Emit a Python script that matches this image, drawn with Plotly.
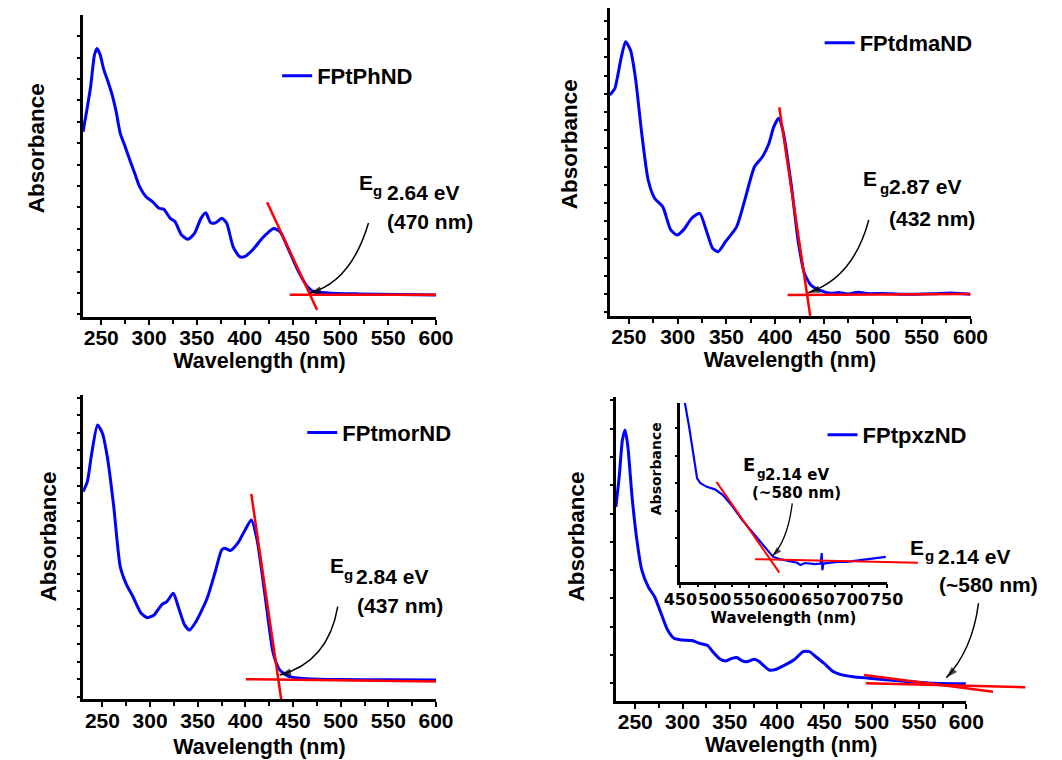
import plotly.graph_objects as go

W, H = 1062, 760

# ---------------- data ----------------
# Panel 1: FPtPhND
wl_phnd = [231, 234.4, 238.9, 242.9, 245.6, 249.0, 252.3, 257.1, 261.5, 265.5, 269.9, 275, 280, 285,
           290.1, 296.8, 303.6, 310.4, 315.4, 322.2, 327.2, 334, 340.8, 347.5, 354.3, 359.3, 364.4,
           369.4, 376.2, 381.2, 387.9, 394.7, 399.8, 408.2, 418.3, 425, 430.2, 437, 445.3, 455.5,
           465.6, 472.4, 480, 490, 520, 560, 600]
abs_phnd = [0.754, 0.84, 0.964, 1.112, 1.143, 1.112, 1.05, 0.987, 0.925, 0.85, 0.746, 0.684, 0.62, 0.56,
            0.497, 0.45, 0.427, 0.396, 0.391, 0.349, 0.333, 0.271, 0.251, 0.279, 0.349, 0.375, 0.328,
            0.328, 0.349, 0.326, 0.216, 0.170, 0.170, 0.201, 0.256, 0.285, 0.302, 0.286, 0.209, 0.107,
            0.029, 0.006, 0.002, -0.001, -0.004, -0.007, -0.009]
tan_phnd_steep_x = [423.4, 475.7]
tan_phnd_steep_y = [0.424, -0.079]
tan_phnd_base_x = [447.1, 600]
tan_phnd_base_y = [-0.008, -0.008]

# Panel 2: FPtdmaND
wl_dma = [230.5, 235.7, 241.7, 246.6, 251.6, 256.6, 263.2, 269.8, 276.4, 284.7, 292.9, 299.5, 306,
          314.4, 322.6, 329.2, 335.8, 341.4, 349, 360.5, 368.8, 378.7, 386.9, 393.6, 398.5, 403.5,
          408.4, 416.6, 423.3, 429.8, 436.4, 444.7, 456.2, 465, 475, 485, 495, 510, 530, 560, 580, 600]
abs_dma = [1.093, 1.130, 1.286, 1.386, 1.341, 1.194, 0.883, 0.626, 0.526, 0.480, 0.352, 0.324, 0.352,
           0.416, 0.443, 0.352, 0.251, 0.232, 0.287, 0.370, 0.516, 0.699, 0.754, 0.828, 0.919, 0.965,
           0.883, 0.590, 0.297, 0.114, 0.049, 0.022, 0.004, 0.008, 0.000, 0.010, 0.002, 0.003,
           -0.002, 0.001, 0.006, -0.002]
tan_dma_steep_x = [404.1, 435.8]
tan_dma_steep_y = [1.026, -0.12]
tan_dma_base_x = [412.7, 600]
tan_dma_base_y = [-0.005, 0.0]

# Panel 3: FPtmorND
wl_mor = [229.7, 234.2, 238.8, 244.9, 250, 255.1, 261.9, 268.7, 275.4, 282.1, 290.6, 297.4, 304.2,
          312.6, 317.6, 324.4, 329.5, 336.2, 341.3, 348.1, 359.9, 368.4, 375.2, 378.5, 384.3, 392,
          398.8, 406.2, 412.3, 420.8, 429.2, 436, 446.1, 464.7, 500, 550, 600]
abs_mor = [1.066, 1.123, 1.284, 1.445, 1.398, 1.265, 0.981, 0.640, 0.536, 0.469, 0.375, 0.350, 0.365,
           0.426, 0.441, 0.489, 0.413, 0.309, 0.280, 0.327, 0.460, 0.611, 0.735, 0.744, 0.731, 0.773,
           0.839, 0.905, 0.791, 0.469, 0.148, 0.053, 0.015, 0.003, -0.002, -0.003, -0.004]
tan_mor_steep_x = [406.2, 437.6]
tan_mor_steep_y = [1.053, -0.114]
tan_mor_base_x = [400.5, 600]
tan_mor_base_y = [0.0, -0.0135]

# Panel 4: FPtpxzND
wl_pxz = [229.5, 233, 236.4, 239.2, 242.2, 246.6, 251.7, 256.9, 263.7, 270.4, 277.3, 284.2, 290.9,
          299.5, 309.7, 318.2, 326.7, 331.8, 338.7, 345.5, 352.2, 357.4, 362.5, 367.6, 376.2, 381.3,
          391.5, 398.3, 408.5, 418.7, 427.3, 434.1, 440.9, 449.4, 459.6, 469.8, 480.1, 497.1, 531.2,
          565.3, 599.4]
abs_pxz = [0.624, 0.730, 0.860, 0.895, 0.836, 0.659, 0.506, 0.400, 0.341, 0.306, 0.247, 0.188, 0.159,
           0.153, 0.151, 0.141, 0.133, 0.112, 0.088, 0.079, 0.088, 0.091, 0.080, 0.076, 0.085, 0.076,
           0.047, 0.049, 0.065, 0.085, 0.112, 0.112, 0.094, 0.071, 0.041, 0.029, 0.023, 0.018, 0.008,
           0.000, -0.002]
tan_pxz_a_x = [492.0, 628.3]
tan_pxz_a_y = [0.029, -0.030]
tan_pxz_b_x = [493.7, 662.4]
tan_pxz_b_y = [0.0, -0.014]

# Inset of panel 4 (450-750 nm)
wl_inset = [452.8, 456.6, 462.7, 469.7, 474.3, 479.1, 488.4, 500.2, 511.9, 526, 540, 554.1, 568.1,
            577.6, 584.6, 596.3, 610, 619.8, 624.4, 631.4, 645.5, 654, 655.5, 656.5, 658, 668, 680.7,
            692, 704.2, 716, 727.5, 738, 748.6]
abs_inset = [0.621, 0.591, 0.505, 0.396, 0.318, 0.300, 0.287, 0.278, 0.257, 0.215, 0.166, 0.124, 0.081,
             0.051, 0.033, 0.023, 0.016, 0.011, 0.003, 0.010, 0.006, 0.008, 0.046, -0.016, 0.008, 0.012,
             0.015, 0.014, 0.018, 0.020, 0.024, 0.027, 0.032]
tan_in_steep_x = [502.5, 593.9]
tan_in_steep_y = [0.305, -0.025]
tan_in_base_x = [558.7, 795.6]
tan_in_base_y = [0.024, 0.011]

# Arrow paths (start, control, end) in data units
arrow_phnd = [(529.4, 0.327), (511.1, 0.051), (468.0, 0.0)]
arrow_dma = [(495.8, 0.407), (480.0, 0.088), (433.8, 0.007)]
arrow_mor = [(496.9, 0.413), (487.0, 0.098), (436.0, 0.024)]
arrow_pxz = [(612.9, 0.283), (606.5, 0.118), (578.9, 0.020)]
arrow_inset = [(612.7, 0.227), (606.1, 0.093), (583.6, 0.035)]

x_ticks = [250, 300, 350, 400, 450, 500, 550, 600]
inset_ticks = [450, 500, 550, 600, 650, 700, 750]

# ---------------- styling ----------------
BLUE = "#0000FF"
RED = "#FF0000"
FONT = "Liberation Sans, Arial, sans-serif"
FONT_IN = "DejaVu Sans, Verdana, sans-serif"


def fx(p):
    return p / W


def fy(p):
    return 1 - p / H


fig = go.Figure()

# blue curves
spline = dict(color=BLUE, width=3, shape="spline", smoothing=0.6)
fig.add_trace(go.Scatter(x=wl_phnd, y=abs_phnd, mode="lines", name="FPtPhND", line=spline,
                         xaxis="x", yaxis="y", legend="legend"))
fig.add_trace(go.Scatter(x=wl_dma, y=abs_dma, mode="lines", name="FPtdmaND", line=spline,
                         xaxis="x2", yaxis="y2", legend="legend2"))
fig.add_trace(go.Scatter(x=wl_mor, y=abs_mor, mode="lines", name="FPtmorND", line=spline,
                         xaxis="x3", yaxis="y3", legend="legend3"))
fig.add_trace(go.Scatter(x=wl_pxz, y=abs_pxz, mode="lines", name="FPtpxzND", line=spline,
                         xaxis="x4", yaxis="y4", legend="legend4"))
fig.add_trace(go.Scatter(x=wl_inset, y=abs_inset, mode="lines", showlegend=False,
                         line=dict(color=BLUE, width=2.2),
                         xaxis="x6", yaxis="y6"))

# red tangent lines
red_sets = [
    (tan_phnd_steep_x, tan_phnd_steep_y, "x", "y", 2.5),
    (tan_phnd_base_x, tan_phnd_base_y, "x", "y", 2.5),
    (tan_dma_steep_x, tan_dma_steep_y, "x2", "y2", 2.5),
    (tan_dma_base_x, tan_dma_base_y, "x2", "y2", 2.5),
    (tan_mor_steep_x, tan_mor_steep_y, "x3", "y3", 2.5),
    (tan_mor_base_x, tan_mor_base_y, "x3", "y3", 2.5),
    (tan_pxz_a_x, tan_pxz_a_y, "x5", "y4", 2.5),
    (tan_pxz_b_x, tan_pxz_b_y, "x5", "y4", 2.5),
    (tan_in_steep_x, tan_in_steep_y, "x7", "y6", 2),
    (tan_in_base_x, tan_in_base_y, "x7", "y6", 2),
]
for xs, ys, xa, ya, w in red_sets:
    fig.add_trace(go.Scatter(x=xs, y=ys, mode="lines", showlegend=False,
                             line=dict(color=RED, width=w), xaxis=xa, yaxis=ya))

# arrowheads: marker "arrow" oriented along control->end direction
arrow_defs = [
    (arrow_phnd, "x", "y", 1.5, 12),
    (arrow_dma, "x2", "y2", 1.5, 12),
    (arrow_mor, "x3", "y3", 1.5, 12),
    (arrow_pxz, "x5", "y4", 1.5, 12),
    (arrow_inset, "x6", "y6", 1.3, 10),
]
for (p0, pc, p1), xr, yr, lw, ms in arrow_defs:
    fig.add_trace(go.Scatter(x=[pc[0], p1[0]], y=[pc[1], p1[1]], mode="markers",
                             showlegend=False, hoverinfo="skip",
                             marker=dict(symbol="arrow", size=[0, ms], angleref="previous",
                                         color="black", line=dict(width=0)),
                             xaxis=xr, yaxis=yr))


# ---------------- axes ----------------
def xaxis_main(standoff):
    return dict(showline=True, linecolor="black", linewidth=3, ticks="outside", ticklen=5,
                tickwidth=2, tickcolor="black", tickvals=x_ticks, showgrid=False, zeroline=False,
                ticklabelstandoff=-5, tickangle=0,
                minor=dict(dtick=25, tick0=0, ticks="outside", ticklen=4, tickwidth=2,
                           tickcolor="black", showgrid=False),
                tickfont=dict(family=FONT, size=21, color="black", weight="bold"),
                title=dict(text="Wavelength (nm)", standoff=standoff,
                           font=dict(family=FONT, size=21.5, color="black", weight="bold")))


ycommon = dict(showline=True, linecolor="black", linewidth=3, ticks="outside", ticklen=3,
               tickwidth=2, tickcolor="black", dtick=0.1, tick0=0, showticklabels=False,
               showgrid=False, zeroline=False)

layout = dict(
    width=W, height=H, margin=dict(l=0, r=0, t=0, b=0),
    paper_bgcolor="white", plot_bgcolor="rgba(0,0,0,0)",
    xaxis=dict(xaxis_main(1), domain=[fx(68.3), fx(433.3)], range=[231, 600], anchor="y"),
    yaxis=dict(ycommon, domain=[fy(317), fy(15)], range=[-0.112, 1.299], anchor="x"),
    xaxis2=dict(xaxis_main(5), domain=[fx(612.7), fx(986)], range=[230.2, 600], anchor="y2"),
    yaxis2=dict(ycommon, domain=[fy(316), fy(8)], range=[-0.121, 1.571], anchor="x2"),
    xaxis3=dict(xaxis_main(9), domain=[fx(68.3), fx(433.3)], range=[229.7, 600], anchor="y3"),
    yaxis3=dict(ycommon, domain=[fy(699.3), fy(395)], range=[-0.114, 1.615], anchor="x3"),
    xaxis4=dict(xaxis_main(3), domain=[fx(619.3), fx(981.7)], range=[229.5, 600], anchor="y4"),
    yaxis4=dict(ycommon, domain=[fy(700.7), fy(396.7)], range=[-0.0615, 1.013], anchor="x4"),
    # wider, hidden scale sharing panel 4's units so the tangents may run past 600 nm
    xaxis5=dict(visible=False, domain=[fx(619.3), 1.0],
                range=[229.5, 229.5 + (W - 619.3) * 50 / 48.9], anchor="y4"),
    # inset
    xaxis6=dict(showline=True, linecolor="black", linewidth=2.5, ticks="outside", ticklen=4,
                tickwidth=1.5, tickcolor="black", tickvals=inset_ticks, showgrid=False,
                zeroline=False, range=[450, 750], domain=[fx(686), fx(899.3)], anchor="y6",
                tickangle=0, ticklabelstandoff=-3,
                minor=dict(dtick=25, tick0=0, ticks="outside", ticklen=3, tickwidth=1.5,
                           tickcolor="black", showgrid=False),
                tickfont=dict(family=FONT_IN, size=16, color="black", weight="bold"),
                title=dict(text="Wavelength (nm)", standoff=0,
                           font=dict(family=FONT_IN, size=15, color="black", weight="bold"))),
    yaxis6=dict(showline=True, linecolor="black", linewidth=2.5, ticks="outside", ticklen=3,
                tickwidth=1.5, tickcolor="black", dtick=0.1, tick0=0, showticklabels=False,
                showgrid=False, zeroline=False, range=[-0.058, 0.592],
                domain=[fy(581.7), fy(403)], anchor="x6"),
    xaxis7=dict(visible=False, domain=[fx(686), fx(940)],
                range=[450, 450 + (940 - 686) * 300 / 213.3], anchor="y6"),
)

legend_font = dict(family=FONT, size=22, color="black", weight="bold")
for key, lx, ly in [("legend", 269, 76), ("legend2", 830, 43), ("legend3", 295, 432.7),
                    ("legend4", 833, 435)]:
    layout[key] = dict(x=fx(lx), y=fy(ly), xanchor="left", yanchor="middle",
                       bgcolor="rgba(0,0,0,0)", font=legend_font, itemwidth=30)

fig.update_layout(**layout)

# ---------------- annotations ----------------
ann = []


def txt(text, x, y, size=21, family=FONT, xanchor="left", angle=0):
    ann.append(dict(text=text, x=fx(x), y=fy(y), xref="paper", yref="paper", showarrow=False,
                    xanchor=xanchor, yanchor="middle", textangle=angle,
                    font=dict(family=family, size=size, color="black", weight="bold")))


# y axis titles
txt("Absorbance", 21, 148, size=22.5, xanchor="center", angle=-90)
txt("Absorbance", 571, 144, size=22.5, xanchor="center", angle=-90)
txt("Absorbance", 32.5, 536, size=22.5, xanchor="center", angle=-90)
txt("Absorbance", 578.5, 536, size=22.5, xanchor="center", angle=-90)
txt("Absorbance", 661, 469, size=14, family=FONT_IN, xanchor="center", angle=-90)

# band-gap labels: "E" with a lowered small "g", then value and wavelength
txt("E", 352, 182.5)
txt("g", 366, 191, size=15)
txt("2.64 eV", 381, 192.5)
txt("(470 nm)", 381, 221.5)

txt("E", 873, 178.5)
txt("g", 890, 188, size=15)
txt("2.87 eV", 900, 187)
txt("(432 nm)", 900, 218.5)

txt("E", 322, 565)
txt("g", 336.5, 574.6, size=15)
txt("2.84 eV", 349, 576)
txt("(437 nm)", 350, 605)

txt("E", 921, 547.5)
txt("g", 937, 555.4, size=15)
txt("2.14 eV", 950, 556.5)
txt("(~580 nm)", 951, 584)

txt("E", 748.5, 465, size=18, family=FONT_IN)
txt("g", 763.5, 473.5, size=12, family=FONT_IN)
txt("2.14 eV", 771, 475, size=15, family=FONT_IN)
txt("(~580 nm)", 758, 493, size=15, family=FONT_IN)

# curved arrow shafts
shapes = []
for (p0, pc, p1), xr, yr, lw, ms in arrow_defs:
    shapes.append(dict(type="path", xref=xr, yref=yr,
                       path=f"M {p0[0]},{p0[1]} Q {pc[0]},{pc[1]} {p1[0]},{p1[1]}",
                       line=dict(color="black", width=lw), layer="above"))

fig.update_layout(annotations=ann, shapes=shapes)

fig.write_html("out.html")
